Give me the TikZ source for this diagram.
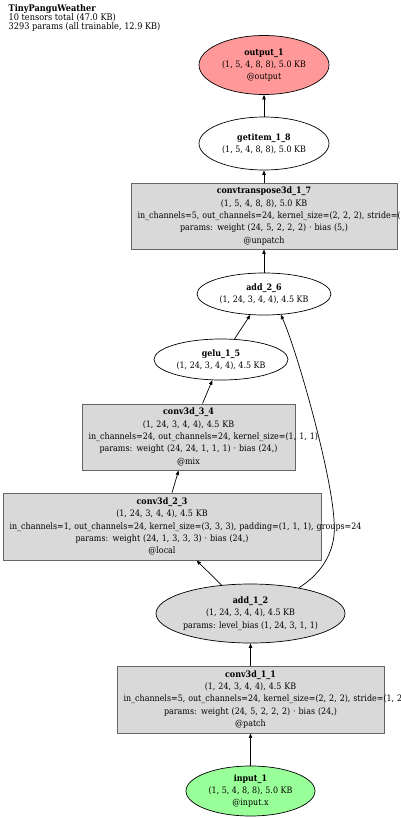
\documentclass[tikz,border=0pt]{standalone}
\usepackage{fontspec}
\setmainfont{DejaVu Serif Condensed}
\usetikzlibrary{shapes.geometric,arrows.meta}

\definecolor{opgray}{HTML}{D9D9D9}
\definecolor{outred}{HTML}{FF9999}
\definecolor{ingreen}{HTML}{99FF99}

\begin{document}
\begin{tikzpicture}[
    x=1pt, y=-1pt,
    every node/.style={font=\fontsize{8.85}{12.3}\selectfont},
    opbox/.style={rectangle, draw=black!60, fill=opgray, line width=0.9pt, align=center, inner xsep=6.5pt, inner ysep=0pt},
    opell/.style={ellipse, draw, line width=0.7pt, align=center, inner sep=0pt},
    link/.style={-{Triangle[length=4.5pt,width=3.4pt]}, line width=0.7pt}
]
\useasboundingbox (0,0) rectangle (400,819);

% En-tete
\node[anchor=north west, align=left, inner sep=0pt, font=\fontsize{9.1}{9.2}\selectfont] (header) at (8.5,4.3)
    {\textbf{TinyPanguWeather}\\10 tensors total (47.0 KB)\\3293 params (all trainable, 12.9 KB)};

% Noeuds
\node[opell, fill=outred, minimum width=130pt, minimum height=59pt] (output1) at (264,65)
    {\textbf{output\_1}\\(1, 5, 4, 8, 8), 5.0 KB\\@output};
\node[opell, fill=white, minimum width=130pt, minimum height=53pt] (getitem18) at (264,143.5)
    {\textbf{getitem\_1\_8}\\(1, 5, 4, 8, 8), 5.0 KB};
\node[opbox, text width=253pt, minimum height=66pt] (convt17) at (264,216)
    {\textbf{convtranspose3d\_1\_7}\\(1, 5, 4, 8, 8), 5.0 KB\\
     \mbox{in\_channels=5, out\_channels=24, kernel\_size=(2, 2, 2), stride=(1, 2, 2)}\\
     \mbox{params: weight (24, 5, 2, 2, 2) · bias (5,)}\\@unpatch};
\node[opell, fill=white, minimum width=134pt, minimum height=42pt] (add26) at (264,294)
    {\textbf{add\_2\_6}\\(1, 24, 3, 4, 4), 4.5 KB};
\node[opell, fill=white, minimum width=134pt, minimum height=41pt] (gelu15) at (221,359.5)
    {\textbf{gelu\_1\_5}\\(1, 24, 3, 4, 4), 4.5 KB};
\node[opbox, text width=200pt, minimum height=66pt] (conv34) at (188.5,437)
    {\textbf{conv3d\_3\_4}\\(1, 24, 3, 4, 4), 4.5 KB\\
     \mbox{in\_channels=24, out\_channels=24, kernel\_size=(1, 1, 1)}\\
     \mbox{params: weight (24, 24, 1, 1, 1) · bias (24,)}\\@mix};
\node[opbox, text width=305pt, minimum height=67pt] (conv23) at (162,526.5)
    {\textbf{conv3d\_2\_3}\\(1, 24, 3, 4, 4), 4.5 KB\\
     \mbox{in\_channels=1, out\_channels=24, kernel\_size=(3, 3, 3), padding=(1, 1, 1), groups=24}\\
     \mbox{params: weight (24, 1, 3, 3, 3) · bias (24,)}\\@local};
\node[opell, fill=opgray, inner xsep=-2pt, minimum width=189pt, minimum height=59pt] (add12) at (250.5,613.5)
    {\textbf{add\_1\_2}\\(1, 24, 3, 4, 4), 4.5 KB\\params: level\_bias (1, 24, 3, 1, 1)};
\node[opbox, text width=254pt, minimum height=67pt] (conv11) at (250.5,699.5)
    {\textbf{conv3d\_1\_1}\\(1, 24, 3, 4, 4), 4.5 KB\\
     \mbox{in\_channels=5, out\_channels=24, kernel\_size=(2, 2, 2), stride=(1, 2, 2)}\\
     \mbox{params: weight (24, 5, 2, 2, 2) · bias (24,)}\\@patch};
\node[opell, fill=ingreen, minimum width=129pt, minimum height=50pt] (input1) at (250.5,791)
    {\textbf{input\_1}\\(1, 5, 4, 8, 8), 5.0 KB\\@input.x};

% Liens
\draw[link] (input1) -- (conv11);
\draw[link] (conv11) -- (add12);
\draw[link] (add12) -- (conv23);
\draw[link] (add12.28) .. controls (324,572) and (337,548) .. (334,520)
    .. controls (331,470) and (296,348) .. (add26.-51);
\draw[link] (conv23) -- (conv34);
\draw[link] (conv34) -- (gelu15);
\draw[link] (gelu15) -- (add26);
\draw[link] (add26) -- (convt17);
\draw[link] (convt17) -- (getitem18);
\draw[link] (getitem18) -- (output1);

\end{tikzpicture}
\end{document}
